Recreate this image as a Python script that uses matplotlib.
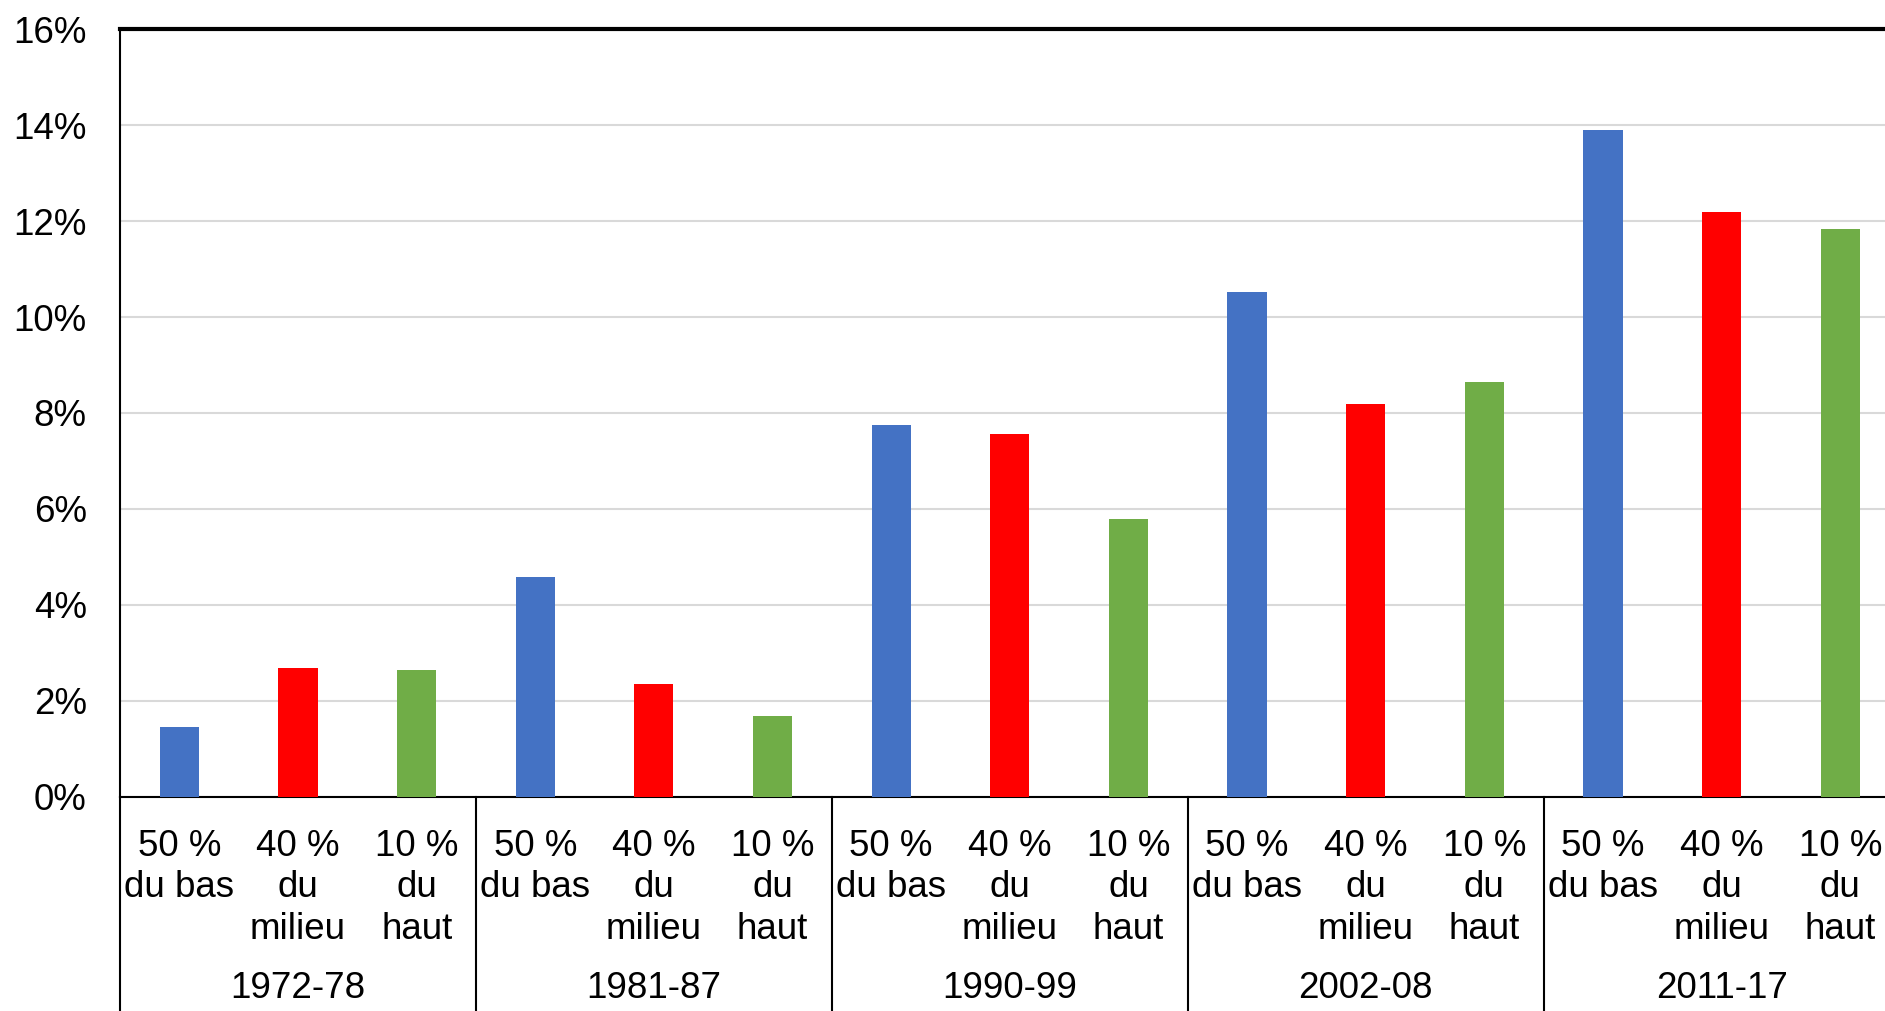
import matplotlib.pyplot as plt
from matplotlib.transforms import blended_transform_factory

plt.rcParams['font.family'] = ['Liberation Sans', 'DejaVu Sans']

periods = ["1972-78", "1981-87", "1990-99", "2002-08", "2011-17"]
groups = ["50 %\ndu bas", "40 %\ndu\nmilieu", "10 %\ndu\nhaut"]
colors = ["#4472C4", "#FF0000", "#70AD47"]

# growth (%) per period for each income group
bottom50 = [1.45, 4.58, 7.74, 10.52, 13.90]
middle40 = [2.68, 2.35, 7.56, 8.19, 12.19]
top10 = [2.65, 1.68, 5.78, 8.64, 11.84]

series = [bottom50, middle40, top10]

fig = plt.figure(figsize=(18.85, 10.11), dpi=100)
ax = fig.add_axes([0.0637, 0.212, 0.944, 0.759])

xs, labels = [], []
for i, p in enumerate(periods):
    for j in range(3):
        x = i * 3 + j
        ax.bar(x, series[j][i], width=0.33, color=colors[j], zorder=3)
        xs.append(x)
        labels.append(groups[j])

ax.set_xlim(-0.5, len(periods) * 3 - 0.5)
ax.set_ylim(0, 16)
ax.set_yticks(range(0, 17, 2))
ax.set_yticklabels([f"{v}%" for v in range(0, 17, 2)])
ax.yaxis.grid(True, color="#d9d9d9", linewidth=1.5, zorder=0)

ax.set_xticks(xs)
ax.set_xticklabels(labels, linespacing=1.25, ha="center")
ax.tick_params(axis="both", length=0, labelsize=26.5)
ax.tick_params(axis="x", pad=23)
ax.tick_params(axis="y", pad=24)

for s in ["left", "bottom"]:
    ax.spines[s].set_linewidth(1.5)
ax.spines["top"].set_linewidth(3)
ax.spines["right"].set_visible(False)

trans = blended_transform_factory(ax.transData, ax.transAxes)
for i in range(len(periods) + 1):
    xb = i * 3 - 0.5
    ax.plot([xb, xb], [0, -0.3], color="black", linewidth=1.5,
            transform=trans, clip_on=False)
for i, p in enumerate(periods):
    ax.text(i * 3 + 1, -0.263, p, transform=trans, ha="center", va="baseline",
            fontsize=26.5)

fig.savefig("out.png", dpi=100)
